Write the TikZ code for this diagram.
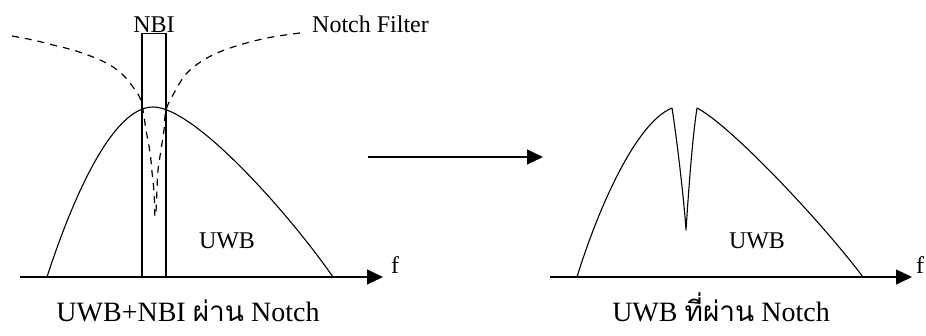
\documentclass[tikz,border=0pt]{standalone}
\usepackage{fontspec}
\setmainfont{Liberation Serif}
\newfontfamily\thaifont[Script=Thai]{Loma}
\usetikzlibrary{arrows.meta}
\tikzset{
  curve/.style={line width=1.1pt, line join=round},
  filt/.style={line width=1.2pt, dash pattern=on 7pt off 6pt},
  axis/.style={line width=1.1pt, -{Triangle[length=16pt,width=15pt]}},
  lbl/.style={font=\fontsize{24}{28}\selectfont, inner sep=0pt, anchor=base},
  captext/.style={font=\fontsize{28}{32}\selectfont, inner sep=0pt, anchor=base, text depth=0pt},
}
\begin{document}
\begin{tikzpicture}[x=1pt,y=-1pt]
\useasboundingbox (0,0) rectangle (926,335);
% ---------- left panel ----------
\coordinate (la0) at (20,277);
\coordinate (la1) at (383,277);
\draw[axis] (la0) -- (la1);
\node[lbl, anchor=base west] (lf) at (391,273) {f};
% UWB spectrum
\draw[curve] (47,277) .. controls (72,200) and (112,107) .. (153,107)
                      .. controls (195,107) and (290,215) .. (333,277);
% NBI box
\node[draw, line width=1.1pt, minimum width=24pt, minimum height=243pt, inner sep=0pt, anchor=south] (nbi) at (154,277) {};
\node[lbl] (nbil) at (154,32) {NBI};
% notch filter (dashed)
\draw[filt] plot[smooth, tension=0.6] coordinates {(12,36) (33,40) (53,45) (73,50) (93,57) (110,65) (123,75) (133,87) (140,98) (143,110) (146,130) (150,152) (152,172) (154,192) (155,220)};
\draw[filt] plot[smooth, tension=0.6] coordinates {(300,33) (267,38) (233,47) (207,58) (187,73) (174,93) (166,110) (164,130) (161,150) (158,170) (157,190) (156,212)};
\node[lbl, anchor=base west] (nf) at (312,32) {Notch Filter};
\node[lbl] (uwb1) at (227,248) {UWB};
\node[captext] (c1) at (188,321) {UWB+NBI {\thaifont ผ่าน} Notch};
% ---------- middle arrow ----------
\coordinate (m0) at (368,157);
\coordinate (m1) at (543,157);
\draw[axis] (m0) -- (m1);
% ---------- right panel ----------
\coordinate (ra0) at (550,277);
\coordinate (ra1) at (912,277);
\draw[axis] (ra0) -- (ra1);
\node[lbl, anchor=base west] (rf) at (916,273) {f};
\draw[curve] (577,277) .. controls (597,212) and (635,123) .. (672,108);
\draw[curve] (672,108) .. controls (677,140) and (684,200) .. (686,230) .. controls (688,200) and (692,140) .. (697,108);
\draw[curve] (697,108) .. controls (730,125) and (820,220) .. (863,277);
\node[lbl] (uwb2) at (757,248) {UWB};
\node[captext] (c2) at (721,321) {UWB {\thaifont ที่ผ่าน} Notch};
\end{tikzpicture}
\end{document}
